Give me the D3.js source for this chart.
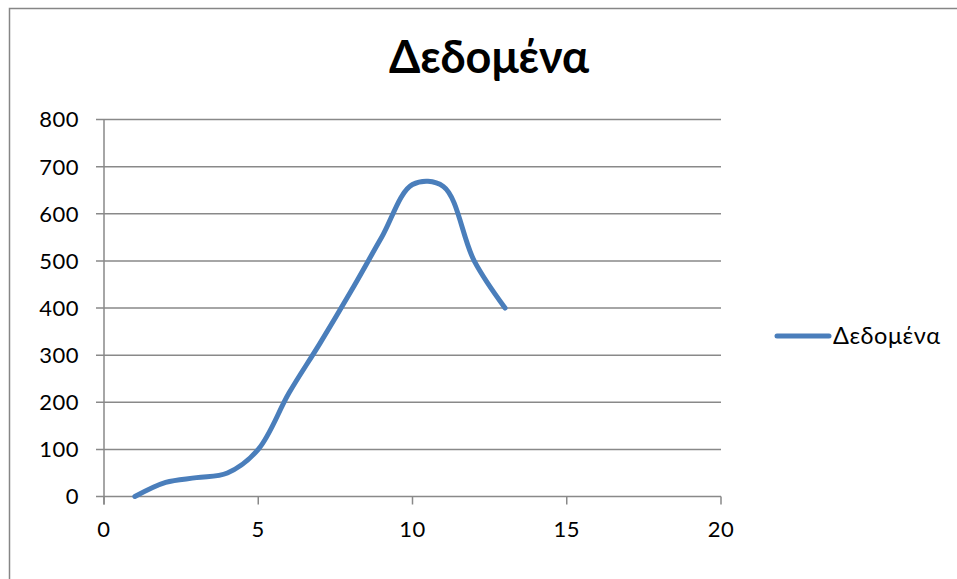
<!DOCTYPE html>
<html><head><meta charset="utf-8">
<script src="https://cdn.jsdelivr.net/npm/d3@7"></script>
<style>body{margin:0;background:#fff}svg{display:block}text{font-family:Lato,"Open Sans",sans-serif}</style>
</head><body>
<svg id="c" width="957" height="579"></svg>
<script>
const title = "Δεδομένα";
const seriesName = "Δεδομένα";
const xValues = [1,2,3,4,5,6,7,8,9,10,11,12,13];
const yValues = [0,30,40,50,100,220,325,435,550,662,658,500,400];
const xTicks = [0,5,10,15,20];
const yTicks = [0,100,200,300,400,500,600,700,800];

const svg = d3.select("#c");
svg.append("rect").attr("x",9.5).attr("y",8.5).attr("width",960).attr("height",590)
  .attr("fill","#fff").attr("stroke","#868686").attr("stroke-width",1.5);

const x = d3.scaleLinear().domain([0,20]).range([104,721]);
const y = d3.scaleLinear().domain([0,800]).range([496.5,119.5]);

const grid = svg.append("g");
grid.selectAll("line").data(yTicks).join("line")
  .attr("x1",96).attr("x2",721).attr("y1",d=>y(d)).attr("y2",d=>y(d))
  .attr("stroke","#898989").attr("stroke-width",1.5);

svg.append("line").attr("x1",104).attr("x2",104).attr("y1",y(800)).attr("y2",y(0)+8)
  .attr("stroke","#898989").attr("stroke-width",1.5);
svg.append("g").selectAll("line").data(xTicks).join("line")
  .attr("x1",d=>x(d)).attr("x2",d=>x(d)).attr("y1",y(0)).attr("y2",y(0)+8)
  .attr("stroke","#898989").attr("stroke-width",1.5);

svg.append("g").selectAll("text").data(yTicks).join("text")
  .attr("x",79).attr("y",d=>y(d)).attr("dy","0.36em").attr("text-anchor","end")
  .attr("font-size",22).attr("letter-spacing",0.5).attr("fill","#000").text(d=>d);
svg.append("g").selectAll("text").data(xTicks).join("text")
  .attr("x",d=>x(d)).attr("y",537).attr("text-anchor","middle")
  .attr("font-size",22).attr("letter-spacing",0.5).attr("fill","#000").text(d=>d);

svg.append("text").attr("x",489).attr("y",73).attr("text-anchor","middle")
  .attr("font-size",45).attr("font-weight","bold").attr("fill","#000").text(title);

const pts = xValues.map((v,i)=>[v,yValues[i]]);
const line = d3.line().x(d=>x(d[0])).y(d=>y(d[1])).curve(d3.curveCatmullRom.alpha(0.5));
svg.append("path").datum(pts).attr("d",line).attr("fill","none")
  .attr("stroke","#4A7EBB").attr("stroke-width",5).attr("stroke-linecap","round").attr("stroke-linejoin","round");

svg.append("line").attr("x1",777).attr("x2",829).attr("y1",336).attr("y2",336)
  .attr("stroke","#4A7EBB").attr("stroke-width",5).attr("stroke-linecap","round");
svg.append("text").attr("x",833).attr("y",336).attr("dy","0.36em")
  .attr("font-size",23.5).attr("letter-spacing",0.6).attr("fill","#000").text(seriesName);
</script>
</body></html>
